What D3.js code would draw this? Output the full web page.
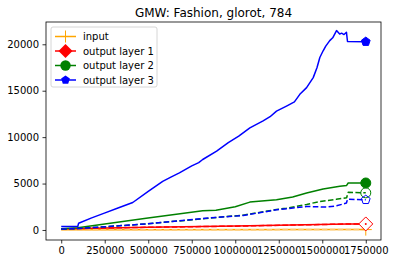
<!DOCTYPE html>
<html>
<head>
<meta charset="utf-8">
<script src="https://d3js.org/d3.v7.min.js"></script>
<style>
    body { margin: 0; background: #fff; }
    text { font-family: 'DejaVu Sans', sans-serif; }
</style>
</head>
<body>
<div id="chart"></div>
<script>
// values
var xTicks = [0, 250000, 500000, 750000, 1000000, 1250000, 1500000, 1750000];
var yTicks = [0, 5000, 10000, 15000, 20000];
var seriesNames = ['input', 'output layer 1', 'output layer 2', 'output layer 3'];

var inputX = [0, 95000, 1645000, 1750000];
var inputY = [30, 30, 40, 40];

var layer1X = [0, 95000, 500000, 1000000, 1645000, 1750000];
var layer1Y = [110, 160, 300, 420, 650, 650];
var layer1DashY = [100, 150, 290, 410, 640, 640];

var layer2X = [0, 95000, 488000, 813000, 889000, 1000000, 1084000, 1237000, 1330000, 1410000, 1505000, 1601000, 1640000, 1649000, 1750000];
var layer2Y = [140, 250, 1270, 2060, 2130, 2500, 3000, 3250, 3550, 3980, 4410, 4700, 4800, 5060, 5060];

var layer2DashX = [0, 95000, 488000, 889000, 1046000, 1237000, 1294000, 1410000, 1486000, 1580000, 1640000, 1649000, 1750000];
var layer2DashY = [100, 150, 650, 1340, 1600, 2200, 2350, 2750, 3070, 3300, 3480, 4050, 4000];

var layer3X = [0, 95000, 100000, 175000, 248000, 330000, 411000, 500000, 583000, 630000, 679000, 750000, 790000, 813000, 893000, 960000, 1020000, 1084000, 1160000, 1200000, 1237000, 1300000, 1340000, 1371000, 1410000, 1448000, 1470000, 1486000, 1505000, 1520000, 1543000, 1560000, 1582000, 1600000, 1611000, 1625000, 1639000, 1645000, 1750000];
var layer3Y = [380, 380, 730, 1300, 1810, 2400, 2960, 4150, 5240, 5700, 6150, 6900, 7250, 7590, 8500, 9400, 10100, 10990, 11750, 12200, 12800, 13400, 13800, 14610, 15330, 16410, 17500, 18580, 19300, 19800, 20390, 20700, 21480, 21100, 21200, 21050, 21290, 20300, 20280];

var layer3DashX = [0, 95000, 488000, 855000, 1046000, 1237000, 1410000, 1470000, 1524000, 1582000, 1639000, 1645000, 1750000];
var layer3DashY = [100, 150, 650, 1300, 1560, 2170, 2530, 2500, 2460, 2600, 2900, 3300, 3250];

var width = 394, height = 264;
var plot = { left: 46, right: 381, top: 22, bottom: 240 };

var svg = d3.select('#chart').append('svg')
    .attr('width', width)
    .attr('height', height);

var x = d3.scaleLinear()
    .domain([-87500, 1837500])
    .range([plot.left, plot.right]);

var y = d3.scaleLinear()
    .domain([-1080, 22400])
    .range([plot.bottom, plot.top]);

var line = d3.line()
    .x(d => x(d[0]))
    .y(d => y(d[1]));

function drawLine(xs, ys, color, dashed) {
    svg.append('path')
        .datum(xs.map((v, i) => [v, ys[i]]))
        .attr('d', line)
        .attr('fill', 'none')
        .attr('stroke', color)
        .attr('stroke-width', 1.5)
        .attr('stroke-linejoin', 'round')
        .attr('stroke-dasharray', dashed ? '5.5,2.4' : null);
}

drawLine(inputX, inputY, 'orange', false);
drawLine(inputX, inputY, '#ffc870', true);
drawLine(layer1X, layer1Y, 'red', false);
drawLine(layer1X, layer1DashY, 'red', true);
drawLine(layer2X, layer2Y, 'green', false);
drawLine(layer2DashX, layer2DashY, 'green', true);
drawLine(layer3DashX, layer3DashY, 'blue', true);
drawLine(layer3X, layer3Y, 'blue', false);

// markers
function pentagon(r) {
    var pts = d3.range(5).map(i => {
        var a = -Math.PI / 2 + i * 2 * Math.PI / 5;
        return [r * Math.cos(a), r * Math.sin(a)];
    });
    return 'M' + pts.join('L') + 'Z';
}

function drawMarker(kind, cx, cy, color, filled) {
    var g = svg.append('g').attr('transform', 'translate(' + cx + ',' + cy + ')');
    if (kind == 'plus') {
        g.append('path').attr('d', 'M-6,0H6M0,-6V6')
            .attr('stroke', color).attr('stroke-width', 1);
    } else if (kind == 'diamond') {
        g.append('path').attr('d', 'M0,-7L7,0L0,7L-7,0Z')
            .attr('fill', filled ? color : 'white')
            .attr('stroke', color).attr('stroke-width', 1);
        if (!filled) g.append('circle').attr('r', 1).attr('fill', color);
    } else if (kind == 'circle') {
        g.append('circle').attr('r', 5)
            .attr('fill', filled ? color : 'none')
            .attr('stroke', color).attr('stroke-width', 1);
    } else if (kind == 'pentagon') {
        g.append('path').attr('d', pentagon(4.6))
            .attr('fill', filled ? color : 'none')
            .attr('stroke', color).attr('stroke-width', 1);
    }
}

var lastX = x(1750000);
drawMarker('plus', lastX, y(inputY[inputY.length - 1]), 'orange', true);
drawMarker('diamond', lastX, y(layer1Y[layer1Y.length - 1]), 'red', false);
drawMarker('circle', lastX, y(layer2DashY[layer2DashY.length - 1]), 'green', false);
drawMarker('circle', lastX, y(layer2Y[layer2Y.length - 1]), 'green', true);
drawMarker('pentagon', lastX, y(layer3DashY[layer3DashY.length - 1]), 'blue', false);
drawMarker('pentagon', lastX, y(layer3Y[layer3Y.length - 1]), 'blue', true);

// axes
var xAxis = d3.axisBottom(x)
    .tickValues(xTicks)
    .tickSize(3.5)
    .tickPadding(3.5)
    .tickFormat(d3.format('d'));

var yAxis = d3.axisLeft(y)
    .tickValues(yTicks)
    .tickSize(3.5)
    .tickPadding(3.5)
    .tickFormat(d3.format('d'));

svg.append('g')
    .attr('class', 'xAxis')
    .attr('transform', 'translate(0,' + plot.bottom + ')')
    .call(xAxis);

svg.append('g')
    .attr('class', 'yAxis')
    .attr('transform', 'translate(' + plot.left + ',0)')
    .call(yAxis);

svg.selectAll('.xAxis, .yAxis').select('.domain').remove();
svg.selectAll('.tick line').attr('stroke', '#000').attr('stroke-width', 0.8);
svg.selectAll('.tick text')
    .attr('fill', '#000')
    .style('font-size', '10px')
    .style('font-family', 'DejaVu Sans');

svg.append('rect')
    .attr('x', plot.left).attr('y', plot.top)
    .attr('width', plot.right - plot.left)
    .attr('height', plot.bottom - plot.top)
    .attr('fill', 'none')
    .attr('stroke', '#000')
    .attr('stroke-width', 0.8);

// title
svg.append('text')
    .attr('x', (plot.left + plot.right) / 2)
    .attr('y', 17)
    .attr('text-anchor', 'middle')
    .style('font-size', '12px')
    .text('GMW: Fashion, glorot, 784');

// legend
var legend = svg.append('g').attr('transform', 'translate(51,27)');
legend.append('rect')
    .attr('width', 106).attr('height', 60)
    .attr('rx', 2)
    .attr('fill', 'white').attr('fill-opacity', 0.8)
    .attr('stroke', '#ccc').attr('stroke-width', 0.8);

var legendColors = ['orange', 'red', 'green', 'blue'];
var legendKinds = ['plus', 'diamond', 'circle', 'pentagon'];
seriesNames.forEach((name, i) => {
    var ly = 9.5 + i * 14.5;
    legend.append('line')
        .attr('x1', 4).attr('x2', 25)
        .attr('y1', ly).attr('y2', ly)
        .attr('stroke', legendColors[i]).attr('stroke-width', 1.5);
    var g = legend.append('g').attr('transform', 'translate(14.5,' + ly + ')');
    if (legendKinds[i] == 'plus') {
        g.append('path').attr('d', 'M-6,0H6M0,-6V6').attr('stroke', 'orange').attr('stroke-width', 1);
    } else if (legendKinds[i] == 'diamond') {
        g.append('path').attr('d', 'M0,-7L7,0L0,7L-7,0Z').attr('fill', 'red');
    } else if (legendKinds[i] == 'circle') {
        g.append('circle').attr('r', 5.2).attr('fill', 'green');
    } else {
        g.append('path').attr('d', pentagon(4.6)).attr('fill', 'blue');
    }
    legend.append('text')
        .attr('x', 32).attr('y', ly + 3.5)
        .style('font-size', '10px')
        .text(name);
});
</script>
</body>
</html>
